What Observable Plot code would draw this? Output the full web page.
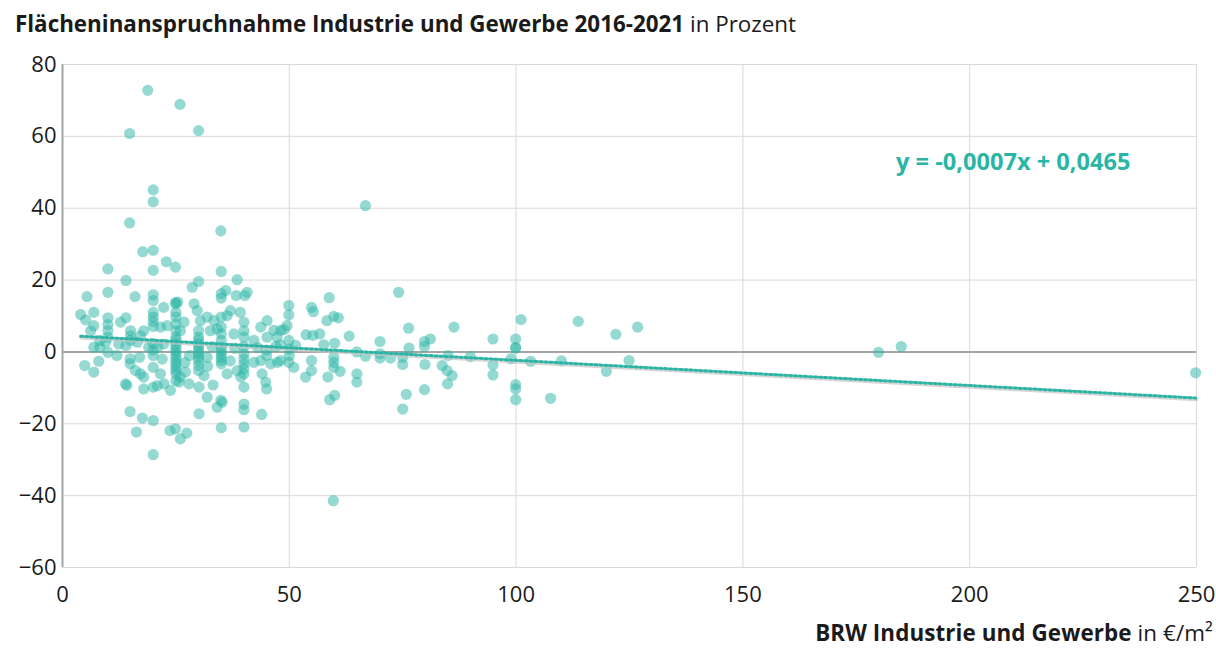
<!DOCTYPE html>
<html lang="de">
<head>
<meta charset="utf-8">
<script src="https://cdn.jsdelivr.net/npm/d3@7"></script>
<script src="https://cdn.jsdelivr.net/npm/@observablehq/plot@0.6"></script>
<style>
  html, body { margin: 0; padding: 0; background: #fff; }
  #wrap { position: relative; width: 1216px; height: 648px; font-family: "Open Sans", "Noto Sans", sans-serif; color: #1a1a1a; }
  #title { position: absolute; left: 15px; top: 8px; font-size: 22.4px; white-space: nowrap; }
  #xlabel { position: absolute; right: 3px; top: 617px; font-size: 22.4px; letter-spacing: 0.1px; white-space: nowrap; }
  .b { font-weight: 700; }
  .l { font-weight: 400; }
  #chart { position: absolute; left: 0; top: 0; }
</style>
</head>
<body>
<div id="wrap">
  <div id="chart"></div>
  <div id="title"><span class="b">Flächeninanspruchnahme Industrie und Gewerbe 2016-2021</span><span class="l"> in Prozent</span></div>
  <div id="xlabel"><span class="b">BRW Industrie und Gewerbe</span><span class="l"> in €/m²</span></div>
</div>
<script>
// Bodenrichtwert (€/m²) je Gemeinde
const brw = [
  18.8, 25.9, 14.8, 30.0, 20, 20, 14.8, 34.9, 17.7, 20,
  10, 22.9, 24.9, 20, 35, 14, 30, 38.5, 66.8, 74.1,
  58.8, 49.9, 49.9, 54.9, 55.3, 58.3, 59.8, 60.8, 101.1, 113.7,
  126.8, 122.0, 86.3, 76.3, 48.8, 53.7, 55.2, 56.7, 63.2, 79.8,
  81.1, 94.9, 99.9, 99.9, 99.9, 70.0, 76.4, 79.8, 57.6, 60.0,
  49.9, 51.4, 64.9, 70, 70, 72.3, 66.8, 75, 75, 85,
  89.9, 98.9, 103.2, 110.0, 124.9, 119.9, 94.9, 94.9, 79.9, 83.7,
  84.8, 85.9, 84.9, 54.9, 54.9, 53.6, 59.8, 59.8, 59.8, 61.2,
  58.5, 64.9, 64.9, 99.9, 99.9, 99.9, 107.6, 79.8, 75.8, 75.0,
  60.0, 58.9, 49.9, 51.0, 179.9, 184.9, 249.8, 59.7,
  5.4, 10, 16, 20, 20, 24.9, 25.4, 28.6, 35, 35,
  36, 38.3, 40.2, 40.7, 4.0, 6.9, 5.1, 6.2, 6.9, 10,
  10, 10, 10, 8.2, 8.2, 12.8, 14, 15, 15, 15,
  17.2, 17.9, 20, 20, 20, 20, 22.3, 21.6, 23.1, 25,
  25, 25, 25, 25, 25, 25, 25, 26, 26.8, 29,
  29.7, 30.4, 31.9, 33.4, 30, 30, 30, 30, 32.6, 34.1,
  35, 35, 35, 35, 36.3, 37, 39.2, 40, 40, 40,
  37.8, 42.2, 43.7, 45.1, 46.6, 48.1, 49.5, 45.1, 47.3, 48,
  6.9, 9.5, 12.4, 14, 16.5, 19, 21, 22.3,
  4.9, 6.9, 8.0, 10, 13.9, 14.2, 14.9, 14.9, 16.1, 17.2,
  17.9, 17.9, 20, 20, 20.9, 22.4, 21.6, 23.8, 25, 25,
  25, 25, 25, 25, 25.7, 26, 27.1, 27.9, 30, 30,
  30, 30, 30, 30.1, 31.2, 31.9, 33.2, 31.9, 34.1, 34.9,
  35.2, 35, 35, 35, 36.3, 40, 40, 40, 40, 38.5,
  39.3, 40, 40, 40, 35, 30.1, 44, 44.8, 45, 43.9,
  42.2, 43.7, 45.9, 47.4, 48.1, 14.9, 17.6, 20, 16.3, 20,
  23.7, 24.9, 26, 27.4,
  25, 25, 25, 25, 30, 30, 35, 35, 35, 40,
  40, 40, 20, 20, 20, 45, 45, 50, 50, 28,
  33, 38, 43, 12, 17, 22, 27, 32, 37, 47
];

// Veränderung der Flächeninanspruchnahme 2016-2021 (%)
const flaeche = [
  72.8, 68.9, 60.8, 61.6, 45.1, 41.8, 35.9, 33.7, 27.9, 28.3,
  23.1, 25.1, 23.6, 22.7, 22.4, 19.9, 19.6, 20.1, 40.7, 16.6,
  15.1, 12.9, 10.3, 12.4, 11.2, 8.7, 9.9, 9.5, 9.0, 8.5,
  6.9, 4.9, 6.9, 6.6, 6.2, 4.8, 4.6, 5.0, 4.4, 2.9,
  3.6, 3.6, 3.6, 1.3, 1.0, 2.9, 1.1, 1.5, 2.0, 2.4,
  3.2, 1.8, 0, -0.5, -1.7, -1.7, -1.2, -1.5, -3.5, -1.0,
  -1.3, -1.9, -2.6, -2.5, -2.4, -5.4, -3.6, -6.4, -3.5, -3.8,
  -5.2, -6.6, -8.9, -2.4, -5.2, -7.0, -1.5, -2.9, -4.3, -5.4,
  -7.0, -6.1, -8.4, -9.1, -10.3, -13.3, -12.9, -10.5, -11.8, -15.9,
  -12.1, -13.3, -2.9, -4.3, -0.1, 1.5, -5.8, -41.4,
  15.4, 16.6, 15.4, 15.9, 14.3, 13.7, 13.9, 18.0, 16.2, 15.0,
  17.1, 15.7, 15.7, 16.6, 10.4, 11.0, 8.9, 5.9, 7.3, 9.5,
  7.6, 5.9, 4.1, 3.2, 1.3, 8.3, 9.5, 5.9, 4.5, 3.2,
  4.5, 5.9, 11.0, 9.7, 8.5, 7.1, 12.4, 6.9, 7.3, 13.4,
  11.0, 9.7, 7.8, 5.9, 4.1, 2.2, 0.4, 5.9, 8.3, 13.4,
  11.5, 8.7, 9.7, 8.7, 5.9, 4.1, 2.2, 0.4, 5.9, 6.4,
  9.7, 6.9, 5.0, 3.2, 10.1, 11.5, 11.0, 8.3, 5.9, 4.1,
  5.0, 3.2, 6.9, 8.7, 6.0, 6.0, 7.3, 4.1, 4.1, 2.0,
  1.3, 2.7, 2.2, 1.8, 2.7, 1.3, 1.3, 2.2,
  -3.8, -5.6, -2.6, -0.1, -8.9, -9.3, -1.9, -3.3, -5.2, -6.1,
  -7.0, -10.3, -4.3, -9.8, -9.4, -8.9, -6.1, -10.7, 1.3, -0.5,
  -2.4, -4.2, -6.1, -8.0, -8.4, -7.0, -5.6, -8.9, 1.3, -0.5,
  -2.4, -3.8, -5.2, -9.8, -6.6, -1.5, -9.2, -12.6, -15.4, -13.5,
  -14.0, 0.4, -1.5, -3.3, -6.1, -3.3, -4.7, -6.1, -9.8, -5.2,
  -7.0, -14.5, -16.1, -20.9, -21.1, -17.2, -6.1, -8.4, -10.3, -17.4,
  -2.9, -2.4, -3.3, -2.9, -2.4, -16.6, -18.4, -19.1, -22.3, -28.6,
  -21.9, -21.4, -24.2, -22.6,
  3.2, -1.4, -3.3, -5.1, 3.2, -1.4, 1.3, -0.6, -2.4, -0.5,
  -2.0, 1.5, 2.4, -1.0, 0.5, 0.5, -1.0, 0.8, -1.0, -1.0,
  1.5, 1.0, 1.2, -1.0, -1.5, -2.0, -3.0, -4.0, -2.5, 1.5
];

const xTicks = [0, 50, 100, 150, 200, 250];
const yTicks = [80, 60, 40, 20, 0, -20, -40, -60];

// lineare Regression (Anteil je €/m²)
const slope = -0.0007;
const intercept = 0.0465;

const teal = "#2bb5a5";
const fmt = v => String(Math.abs(v)).replace(".", ",");

const points = brw.map((x, i) => ({x, y: flaeche[i]}));
const xExtent = d3.extent(brw);
const trend = xExtent.map(x => ({x, y: (slope * x + intercept) * 100}));
const equation = `y = ${slope < 0 ? "-" : ""}${fmt(slope)}x ${intercept < 0 ? "-" : "+"} ${fmt(intercept)}`;

const chart = Plot.plot({
  width: 1216,
  height: 648,
  marginTop: 64,
  marginRight: 20,
  marginBottom: 81,
  marginLeft: 62,
  style: {fontFamily: '"Open Sans", "Noto Sans", sans-serif', fontSize: "22px", color: "#1a1a1a", background: "transparent"},
  x: {domain: [0, 250], label: null},
  y: {domain: [-60, 80], label: null},
  marks: [
    Plot.gridX(xTicks, {stroke: "#d9d9d9", strokeOpacity: 1, strokeWidth: 1}),
    Plot.gridY(yTicks, {stroke: "#d9d9d9", strokeOpacity: 1, strokeWidth: 1}),
    Plot.ruleY([0], {stroke: "#8c8c8c", strokeWidth: 1.5}),
    Plot.ruleX([0], {stroke: "#a6a6a6", strokeWidth: 2}),
    Plot.dot(points, {x: "x", y: "y", r: 5.6, fill: teal, fillOpacity: 0.5, stroke: "none"}),
    // dotted trend line over a pale grey shadow
    Plot.line(trend, {x: "x", y: "y", stroke: "#c4c4c4", strokeOpacity: 0.7, strokeWidth: 4.5, dx: 0.6, dy: 1}),
    Plot.line(trend, {x: "x", y: "y", stroke: teal, strokeWidth: 3, strokeDasharray: "2.2 2.8"}),
    Plot.axisX(xTicks, {tickSize: 0, tickPadding: 19, fontSize: 22, fill: "#1a1a1a", label: null}),
    Plot.axisY(yTicks, {tickSize: 0, tickPadding: 6, fontSize: 22, fill: "#1a1a1a", label: null}),
    Plot.text([equation], {frameAnchor: "top-right", dx: -66, dy: 98, lineAnchor: "middle", textAnchor: "end", fill: teal, fontWeight: "bold", fontSize: 23.6})
  ]
});
document.getElementById("chart").append(chart);
</script>
</body>
</html>
